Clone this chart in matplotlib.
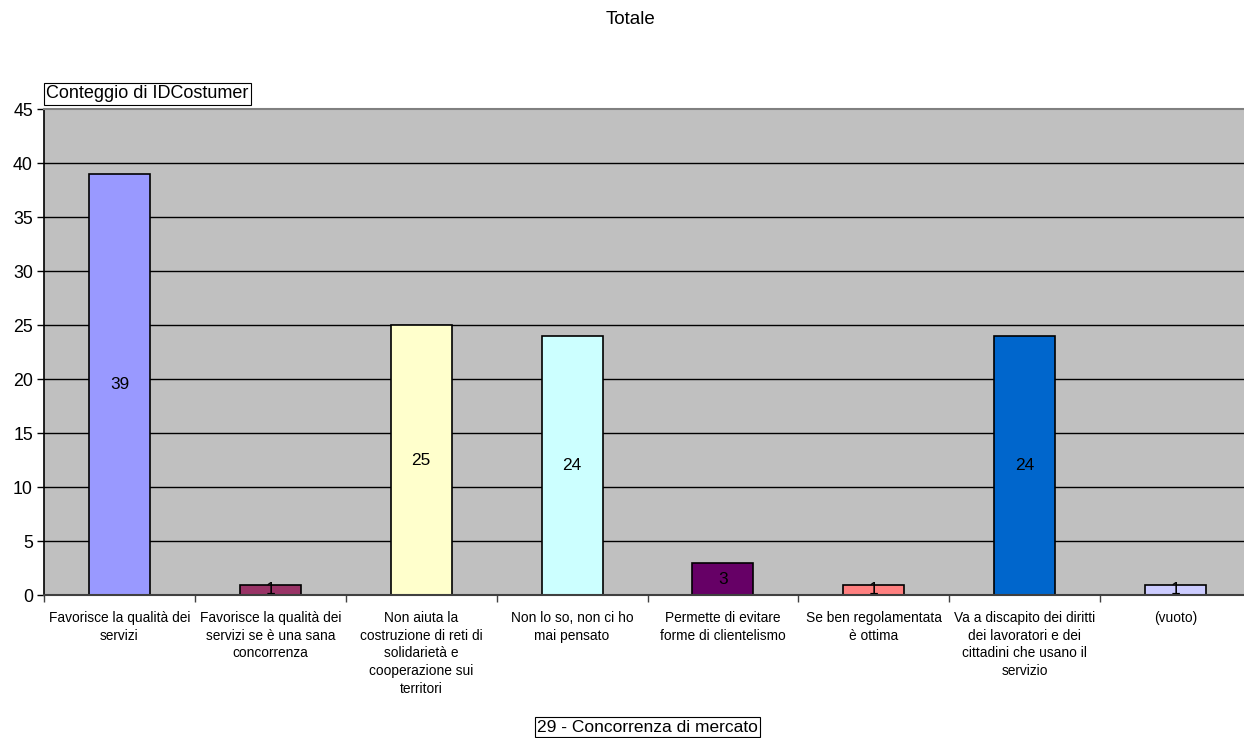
import matplotlib
matplotlib.use("Agg")
import matplotlib.pyplot as plt
from matplotlib.ticker import FixedLocator, NullFormatter

plt.rcParams['font.family'] = ['Liberation Sans', 'DejaVu Sans']

categories = [
    "Favorisce la qualità dei\nservizi",
    "Favorisce la qualità dei\nservizi se è una sana\nconcorrenza",
    "Non aiuta la\ncostruzione di reti di\nsolidarietà e\ncooperazione sui\nterritori",
    "Non lo so, non ci ho\nmai pensato",
    "Permette di evitare\nforme di clientelismo",
    "Se ben regolamentata\nè ottima",
    "Va a discapito dei diritti\ndei lavoratori e dei\ncittadini che usano il\nservizio",
    "(vuoto)",
]
counts = [39, 1, 25, 24, 3, 1, 24, 1]
bar_colors = ["#9999FF", "#993366", "#FFFFCC", "#CCFFFF",
              "#660066", "#FF8080", "#0066CC", "#CCCCFF"]
y_ticks = [0, 5, 10, 15, 20, 25, 30, 35, 40, 45]

W, H = 1244, 738
fig = plt.figure(figsize=(W / 100, H / 100), dpi=100)
fig.patch.set_facecolor("white")

# plot area (extends slightly past the right edge of the canvas)
left, right_px = 44, 1251
top, bottom = 109.3, 595.3
ax = fig.add_axes([left / W, 1 - bottom / H, (right_px - left) / W, (bottom - top) / H])
ax.set_facecolor("#C0C0C0")

x = list(range(len(categories)))
for yv in y_ticks[1:-1]:
    ax.axhline(yv, color="black", linewidth=1.0, zorder=0.5)

ax.bar(x, counts, width=0.404, color=bar_colors, edgecolor="black",
       linewidth=1.2, zorder=2)

for xi, v in zip(x, counts):
    ax.text(xi, v / 2, str(v), ha="center", va="center", fontsize=12.4,
            color="black", zorder=3)

ax.set_xlim(-0.5, len(categories) - 0.5)
ax.set_ylim(0, 45)
ax.set_yticks(y_ticks)
ax.set_yticklabels([str(t) for t in y_ticks], fontsize=12.8)
ax.tick_params(axis="y", length=5, width=1, color="black", pad=3)

ax.set_xticks(x)
ax.set_xticklabels(categories, fontsize=9.9, linespacing=1.36, va="top")
ax.tick_params(axis="x", which="major", length=0, pad=11)
ax.xaxis.set_minor_locator(FixedLocator([i + 0.5 for i in x[:-1]] + [-0.5]))
ax.xaxis.set_minor_formatter(NullFormatter())
ax.tick_params(axis="x", which="minor", length=5, width=1, color="#404040")

ax.spines["right"].set_visible(False)
ax.spines["top"].set_color("#808080")
ax.spines["top"].set_linewidth(1.5)
ax.spines["left"].set_color("black")
ax.spines["left"].set_linewidth(1.2)
ax.spines["bottom"].set_color("#404040")
ax.spines["bottom"].set_linewidth(1.5)

fig.text(630 / W, 1 - 20 / H, "Totale", ha="center", va="center", fontsize=13.5)

fig.text(46 / W, 1 - 94 / H, "Conteggio di IDCostumer", ha="left", va="center",
         fontsize=13,
         bbox=dict(boxstyle="square,pad=0.12", facecolor="white",
                   edgecolor="black", linewidth=0.8))

fig.text(647.5 / W, 1 - 727 / H, "29 - Concorrenza di mercato", ha="center",
         va="center", fontsize=12.5,
         bbox=dict(boxstyle="square,pad=0.12", facecolor="white",
                   edgecolor="black", linewidth=0.8))

fig.savefig("out.png", dpi=100)
